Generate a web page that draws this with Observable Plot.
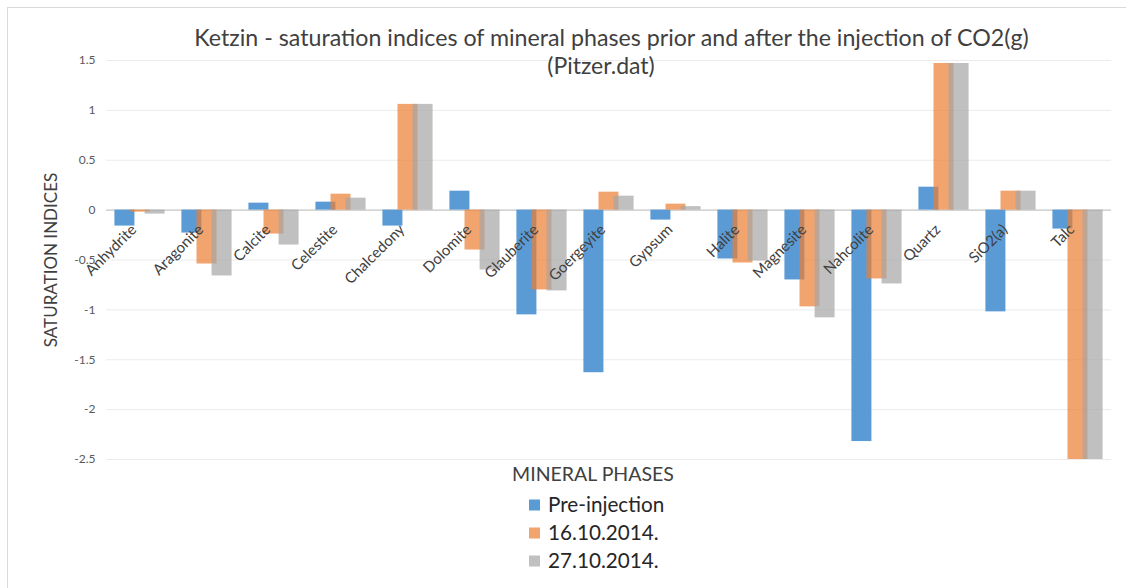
<!DOCTYPE html>
<html>
<head>
<meta charset="utf-8">
<script src="https://cdn.jsdelivr.net/npm/d3@7"></script>
<script src="https://cdn.jsdelivr.net/npm/@observablehq/plot@0.6"></script>
<style>
  html, body { margin: 0; padding: 0; background: #fff; }
  #wrap { position: relative; width: 1126px; height: 588px; overflow: hidden; background: #fff; }
  #frame { position: absolute; left: 7px; top: 7px; width: 1300px; height: 800px;
           border-left: 1.5px solid #D9D9D9; border-top: 1.5px solid #D9D9D9; }
  #chart { position: absolute; left: 0; top: 0; }
  #overlay { position: absolute; left: 0; top: 0; pointer-events: none; }
</style>
</head>
<body>
<div id="wrap">
  <div id="frame"></div>
  <div id="chart"></div>
  <svg id="overlay" width="1126" height="588"></svg>
</div>
<script>
const categories = ["Anhydrite","Aragonite","Calcite","Celestite","Chalcedony","Dolomite","Glauberite","Goergeyite","Gypsum","Halite","Magnesite","Nahcolite","Quartz","SiO2(a)","Talc"];
const seriesNames = ["Pre-injection","16.10.2014.","27.10.2014."];
const preInjection = [-0.16,-0.23,0.07,0.08,-0.16,0.19,-1.05,-1.63,-0.10,-0.49,-0.70,-2.32,0.23,-1.02,-0.19];
const oct16 = [-0.02,-0.54,-0.24,0.16,1.06,-0.40,-0.80,0.18,0.06,-0.53,-0.97,-0.69,1.47,0.19,-2.50];
const oct27 = [-0.04,-0.66,-0.35,0.12,1.06,-0.60,-0.81,0.14,0.035,-0.51,-1.08,-0.74,1.47,0.19,-2.50];
const yTicks = [-2.5,-2,-1.5,-1,-0.5,0,0.5,1,1.5];
const seriesColors = ["#5B9BD5","#ED7D31","#A5A5A5"];
const seriesOpacity = [1, 0.7, 0.7];

const seriesValues = [preInjection, oct16, oct27];
const rows = [];
categories.forEach((c, i) => {
  seriesValues.forEach((arr, s) => rows.push({category: c, series: seriesNames[s], si: s, value: arr[i]}));
});

const halfW = 0.663;
const chart = Plot.plot({
  width: 1126,
  height: 470,
  marginTop: 60,
  marginBottom: 11,
  marginLeft: 99,
  marginRight: 8,
  style: {fontFamily: "Lato, sans-serif", background: "transparent"},
  fx: {domain: categories, padding: 0, axis: null},
  x: {domain: [-1.22, 3.22], axis: null},
  y: {domain: [-2.5, 1.5], axis: null},
  color: {domain: seriesNames, range: seriesColors},
  marks: [
    Plot.ruleY(yTicks, {stroke: "#EBEBEB", strokeWidth: 1}),
    Plot.ruleY([0], {stroke: "#CACACA", strokeWidth: 1.4}),
    Plot.rect(rows, {
      fx: "category",
      x1: d => d.si - halfW,
      x2: d => d.si + halfW,
      y1: () => 0,
      y2: "value",
      fill: "series",
      fillOpacity: d => seriesOpacity[d.si]
    }),
    Plot.text(categories, {
      fx: d => d,
      y: () => 0,
      text: d => d,
      rotate: -45,
      textAnchor: "end",
      dx: -6,
      dy: 17,
      fontSize: 15,
      fill: "#404040"
    }),
    Plot.axisY(yTicks, {
      tickSize: 0,
      tickPadding: 11,
      tickFormat: d => String(d),
      fontSize: 12,
      fill: "#595959",
      label: null
    })
  ]
});
document.getElementById("chart").appendChild(chart);

const ov = d3.select("#overlay").style("font-family", "Lato, sans-serif");
ov.append("text").attr("x", 611.5).attr("y", 46).attr("text-anchor", "middle")
  .attr("font-size", 23.2).attr("fill", "#404040")
  .text("Ketzin - saturation indices of mineral phases prior and after the injection of CO2(g)");
ov.append("text").attr("x", 601).attr("y", 73.5).attr("text-anchor", "middle")
  .attr("font-size", 23).attr("fill", "#404040").text("(Pitzer.dat)");
ov.append("text").attr("transform", "translate(57,260) rotate(-90)").attr("text-anchor", "middle")
  .attr("font-size", 17).attr("fill", "#404040").text("SATURATION INDICES");
ov.append("text").attr("x", 593).attr("y", 480.7).attr("text-anchor", "middle")
  .attr("font-size", 19.5).attr("fill", "#404040").text("MINERAL PHASES");

const legendCenters = [505, 533, 561];
seriesNames.forEach((name, i) => {
  ov.append("rect").attr("x", 529).attr("y", legendCenters[i] - 5.5).attr("width", 11).attr("height", 11)
    .attr("fill", seriesColors[i]).attr("fill-opacity", seriesOpacity[i]);
  ov.append("text").attr("x", 548).attr("y", legendCenters[i] + 7)
    .attr("font-size", 20.7).attr("fill", "#262626").text(name);
});
</script>
</body>
</html>
